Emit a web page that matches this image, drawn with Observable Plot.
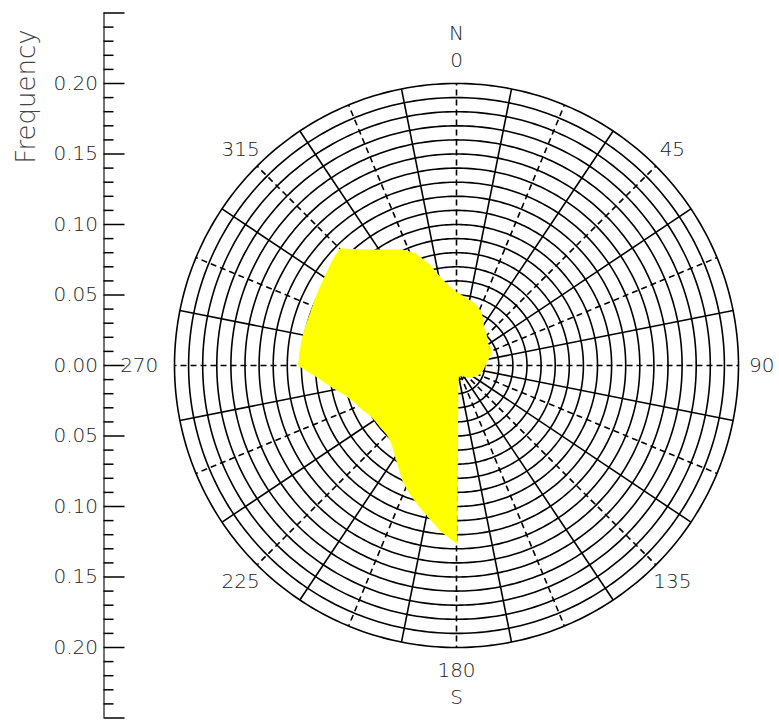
<!DOCTYPE html>
<html>
<head>
<meta charset="utf-8">
<script src="https://cdn.jsdelivr.net/npm/d3@7"></script>
<script src="https://cdn.jsdelivr.net/npm/@observablehq/plot@0.6"></script>
<style>
  html, body { margin: 0; padding: 0; background: #fff; }
  #chart svg { display: block; }
</style>
</head>
<body>
<div id="chart"></div>
<script>
// ---- Data ----
const directions = [0,5,10,15,20,25,30,35,40,45,50,55,60,65,70,75,80,85,
  90,95,100,105,110,115,120,125,130,135,140,145,150,155,160,165,170,175,
  180,185,190,195,200,205,210,215,220,225,230,235,240,245,250,255,260,265,
  270,275,280,285,290,295,300,305,310,315,320,325,330,335,340,345,350,355];
const frequency = [0.052,0.0495,0.0475,0.046,0.044,0.0414,0.0374,0.0333,0.0316,0.030,0.0284,0.027,0.027,0.027,0.0259,0.0242,0.0226,0.0209,
  0.0201,0.0195,0.0189,0.0183,0.0175,0.0163,0.0151,0.014,0.0128,0.0116,0.0104,0.0092,0.0083,0.0082,0.008,0.0079,0.0078,0.012,
  0.126,0.1185,0.110,0.103,0.0968,0.090,0.0823,0.0764,0.0716,0.0694,0.0694,0.0695,0.0707,0.0737,0.0766,0.0813,0.0894,0.0986,
  0.112,0.1114,0.111,0.1104,0.110,0.1106,0.1115,0.1128,0.115,0.117,0.107,0.100,0.0946,0.0904,0.0842,0.0738,0.0624,0.056];

const ringRadii = [0.01,0.02,0.03,0.04,0.05,0.06,0.07,0.08,0.09,0.10,0.11,0.12,0.13,0.14,0.15,0.16,0.17,0.18,0.19,0.20];
const sectorEdges = [11.25,33.75,56.25,78.75,101.25,123.75,146.25,168.75,191.25,213.75,236.25,258.75,281.25,303.75,326.25,348.75];
const sectorCenters = [0,22.5,45,67.5,90,112.5,135,157.5,180,202.5,225,247.5,270,292.5,315,337.5];
const angleLabels = [0,45,90,135,180,225,315];
const westLabel = [270];
const compassLabels = [{a:0, t:"N"}, {a:180, t:"S"}];

const yMajorTicks = [-0.25,-0.20,-0.15,-0.10,-0.05,0,0.05,0.10,0.15,0.20,0.25];
const yMinorTicks = [-0.24,-0.23,-0.22,-0.21,-0.19,-0.18,-0.17,-0.16,-0.14,-0.13,-0.12,-0.11,-0.09,-0.08,-0.07,-0.06,-0.04,-0.03,-0.02,-0.01,
  0.01,0.02,0.03,0.04,0.06,0.07,0.08,0.09,0.11,0.12,0.13,0.14,0.16,0.17,0.18,0.19,0.21,0.22,0.23,0.24];
const yTickLabels = [0.20,0.15,0.10,0.05,0,-0.05,-0.10,-0.15,-0.20];

// ---- Layout ----
const W = 779, H = 720, cx = 456, cy = 365, k = 1410; // px per frequency unit
const rMax = 0.20, axisX = -0.25, labelR = 0.2165, compassR = 0.2355;
const rad = a => a * Math.PI / 180;
const px = (a, r) => r * Math.sin(rad(a));
const py = (a, r) => r * Math.cos(rad(a));

const rose = directions.map((a, i) => ({a, f: frequency[i]}));
const ringPts = [];
for (const r of ringRadii) for (let a = 0; a < 360; a += 1) ringPts.push({r, a});

const font = "DejaVu Sans, sans-serif";
const txt = {fontSize: 20, fill: "#222", fontWeight: 300};

const chart = Plot.plot({
  width: W, height: H, margin: 0,
  style: {fontFamily: font, background: "white"},
  x: {domain: [-cx / k, (W - cx) / k], range: [0, W], axis: null},
  y: {domain: [(cy - H) / k, cy / k], range: [H, 0], axis: null},
  marks: [
    // rings
    Plot.line(ringPts, {x: d => px(d.a, d.r), y: d => py(d.a, d.r), z: "r", curve: "linear-closed", stroke: "black", strokeWidth: 1.6}),
    // sector edges (solid)
    Plot.link(sectorEdges, {x1: 0, y1: 0, x2: a => px(a, rMax), y2: a => py(a, rMax), stroke: "black", strokeWidth: 1.6}),
    // sector centers (dashed)
    Plot.link(sectorCenters, {x1: 0, y1: 0, x2: a => px(a, rMax), y2: a => py(a, rMax), stroke: "black", strokeWidth: 1.6, strokeDasharray: "6,4"}),
    // rose polygon
    Plot.line(rose, {x: d => px(d.a, d.f), y: d => py(d.a, d.f), curve: "linear-closed", fill: "yellow", stroke: "yellow", strokeWidth: 1}),
    // direction labels
    Plot.text(angleLabels, {x: a => px(a, labelR), y: a => py(a, labelR), text: a => String(a), ...txt}),
    Plot.text(westLabel, {x: a => px(a, labelR), y: a => py(a, labelR), text: a => String(a), dx: -12, ...txt}),
    Plot.text(compassLabels, {x: d => px(d.a, compassR), y: d => py(d.a, compassR), text: "t", ...txt}),
    // left frequency axis
    Plot.ruleX([axisX], {y1: -0.25, y2: 0.25, stroke: "#444", strokeWidth: 1.5}),
    Plot.ruleY(yMajorTicks, {y: d => d, x1: axisX, x2: axisX + 21 / k, stroke: "black", strokeWidth: 1.5}),
    Plot.ruleY(yMinorTicks, {y: d => d, x1: axisX, x2: axisX + 10 / k, stroke: "black", strokeWidth: 1.5}),
    Plot.text(yTickLabels, {x: axisX, y: d => d, text: d => Math.abs(d).toFixed(2), textAnchor: "end", dx: -6, ...txt}),
    Plot.text(["Frequency"], {frameAnchor: "top-left", dx: 26, dy: 96, rotate: -90, textAnchor: "middle", lineAnchor: "middle", fontSize: 26, fill: "#444", fontWeight: 300})
  ]
});
document.getElementById("chart").appendChild(chart);
</script>
</body>
</html>
